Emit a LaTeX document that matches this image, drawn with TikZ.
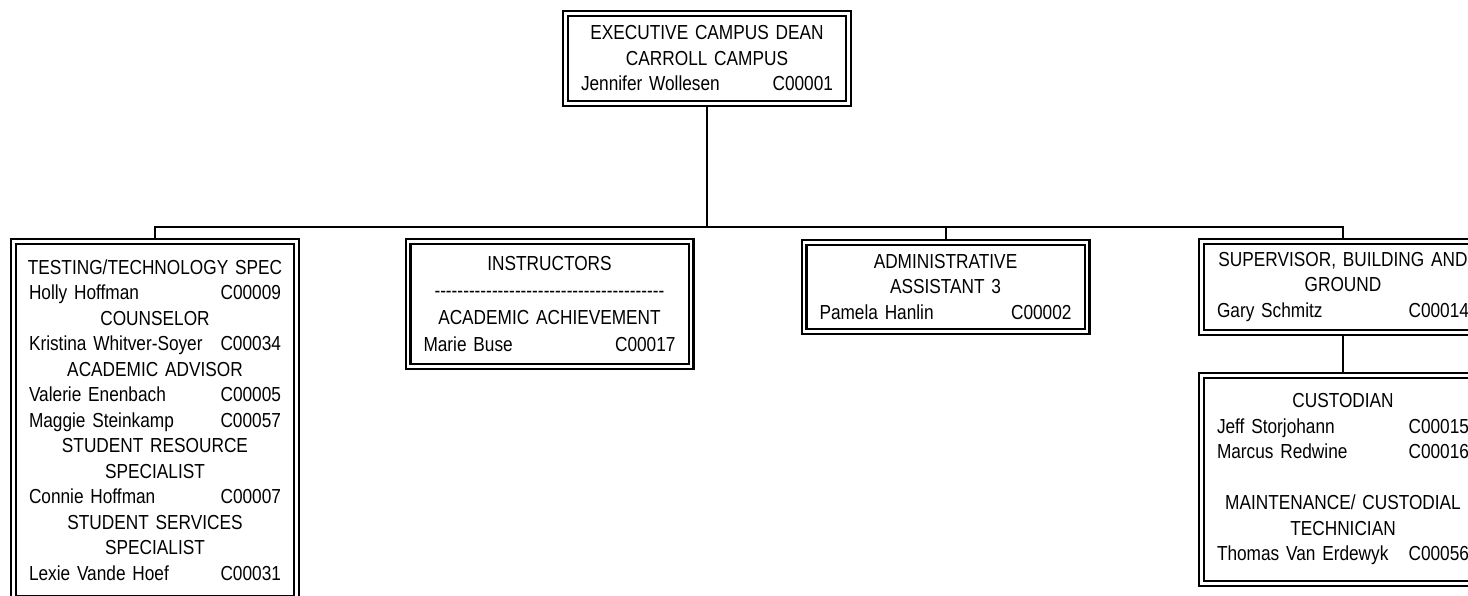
\documentclass[tikz,border=0pt]{standalone}
\usepackage{fontspec}
\setmainfont{Liberation Sans}[FakeStretch=0.85]
\begin{document}
\begin{tikzpicture}[x=1pt,y=1pt,
  box/.style={draw, double, line width=2.1pt, double distance=2.8pt, outer sep=3.5pt,
    inner sep=0pt, minimum width=283pt, text width=252pt, align=center,
    font=\fontsize{20.3}{25.5}\selectfont},
  conn/.style={line width=2pt}]
\useasboundingbox (0,0) rectangle (1468,-595);
\clip (0,0) rectangle (1468,-595);

\node[box, minimum height=90pt] (top) at (707,-58.5)
  {EXECUTIVE CAMPUS DEAN\\CARROLL CAMPUS\\Jennifer Wollesen\hfill C00001};

\node[box, minimum height=357pt] (testing) at (155,-420)
  {\makebox[252pt]{TESTING/TECHNOLOGY SPEC}\\
   Holly Hoffman\hfill C00009\\
   COUNSELOR\\
   Kristina Whitver-Soyer\hfill C00034\\
   ACADEMIC ADVISOR\\
   Valerie Enenbach\hfill C00005\\
   Maggie Steinkamp\hfill C00057\\
   STUDENT RESOURCE\\
   SPECIALIST\\
   Connie Hoffman\hfill C00007\\
   STUDENT SERVICES\\
   SPECIALIST\\
   Lexie Vande Hoef\hfill C00031};

\node[box, minimum height=125pt, font=\fontsize{20.3}{27}\selectfont] (instr) at (549.5,-304)
  {INSTRUCTORS\\
   \leavevmode\hbox to 230pt{\xleaders\hbox{-}\hfill}\\
   ACADEMIC ACHIEVEMENT\\
   Marie Buse\hfill C00017};

\node[box, minimum height=89pt] (admin) at (945.5,-287)
  {ADMINISTRATIVE\\ASSISTANT 3\\Pamela Hanlin\hfill C00002};

\node[box, minimum height=91pt] (super) at (1343,-287)
  {SUPERVISOR, BUILDING AND\\GROUND\\Gary Schmitz\hfill C00014};

\node[box, minimum height=208pt] (cust) at (1343,-479.5)
  {CUSTODIAN\\
   Jeff Storjohann\hfill C00015\\
   Marcus Redwine\hfill C00016\\[25.5pt]
   MAINTENANCE/ CUSTODIAL\\
   TECHNICIAN\\
   Thomas Van Erdewyk\hfill C00056};

\coordinate (bus) at (707,-227);
\draw[conn] (top.south) -- (bus);
\draw[conn] (testing.north) -- (testing.north |- bus) -- (super.north |- bus) -- (super.north);
\draw[conn] (admin.north) -- (admin.north |- bus);
\draw[conn] (super.south) -- (cust.north);
\end{tikzpicture}
\end{document}
